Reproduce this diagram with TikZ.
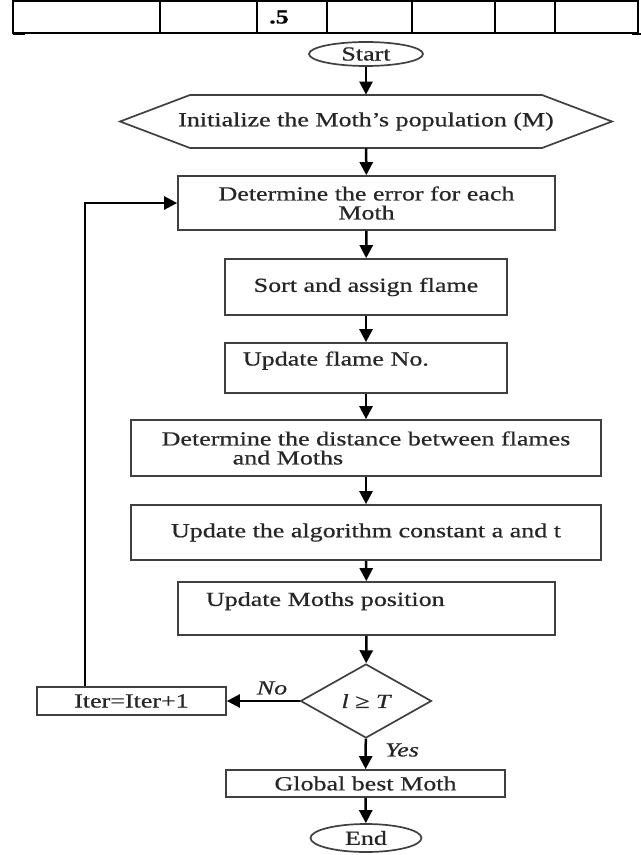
\documentclass[tikz,border=0pt]{standalone}
\usepackage{fontspec}
\setmainfont{Liberation Serif}[FakeStretch=1.3,FakeBold=0.6]
\usetikzlibrary{shapes.geometric,arrows.meta}

\begin{document}
\begin{tikzpicture}[x=0.5pt,y=-0.5pt,
		caixa/.style={draw=black!75, line width=0.85pt, inner sep=0pt, text=black!85},
		seta/.style={-{Triangle[length=6.5pt,width=6.5pt]}, line width=1.25pt},
		txt/.style={inner sep=0pt, text=black!85},
		font=\fontsize{10}{9.5}\selectfont]
	\useasboundingbox (0,0) rectangle (641,855);
	
	% Tabela
	\draw[line width=0.75pt] (13,1) rectangle (638,33);
	\foreach \x in {160,257,327,412,495,555}
		\draw[line width=0.75pt] (\x,1) -- (\x,33);
	\draw[line width=1pt] (13,34.5) -- (25,34.5);						% borda inferior
	\draw[line width=1pt] (632,34.5) -- (641,34.5);
	\node[txt, text=black, font=\fontsize{10}{12}\selectfont\bfseries] (cel) at (279,17) {.5};
	
	% Blocos
	\node[caixa, ellipse, minimum width=57pt, minimum height=12pt] (start) at (366,54) {Start};
	\node[txt, minimum height=26.5pt] (init) at (366,121.5) {Initialize the Moth’s population (M)};
	\draw[caixa] ([shift={(-176,-26.5)}]init.center) -- ([shift={(176,-26.5)}]init.center)
		-- ([shift={(246,0)}]init.center) -- ([shift={(176,26.5)}]init.center)
		-- ([shift={(-176,26.5)}]init.center) -- ([shift={(-246,0)}]init.center) -- cycle;	% hexagono
	\node[caixa, minimum width=188.5pt, minimum height=27pt, align=center] (err) at (366.5,203) {Determine the error for each\\Moth};
	\node[caixa, minimum width=141pt, minimum height=28pt] (sort) at (366,287) {Sort and assign flame};
	\node[caixa, minimum width=141pt, minimum height=25pt, text width=123pt, align=left] (upd) at (366,368) {Update flame No.\\\mbox{}};
	\node[caixa, minimum width=235pt, minimum height=28pt, align=left] (dist) at (366,448) {Determine the distance between flames\\\hspace*{35.5pt}and Moths};
	\node[caixa, minimum width=235pt, minimum height=27.5pt] (algo) at (366,532.5) {Update the algorithm constant a and t};
	\node[caixa, minimum width=188.5pt, minimum height=26.5pt, text width=160.5pt, align=left] (pos) at (366.5,608.5) {Update Moths position\\\mbox{}};
	\node[caixa, diamond, aspect=1.77, minimum width=65.5pt, minimum height=37pt] (dec) at (366,701) {\itshape l ≥ T};
	\node[caixa, minimum width=94.5pt, minimum height=14pt] (iter) at (131.5,701) {Iter=Iter+1};
	\node[caixa, minimum width=139.5pt, minimum height=13.5pt] (best) at (365.5,783.5) {Global best Moth};
	\node[caixa, ellipse, minimum width=55.5pt, minimum height=14pt] (stop) at (366,838) {End};
	
	% Rotulos
	\node[txt, font=\fontsize{10}{12}\selectfont\itshape] (no) at (272,688) {No};
	\node[txt, font=\fontsize{10}{12}\selectfont\itshape] (yes) at (402,750) {Yes};
	
	% Setas
	\draw[seta] (start) -- (init);
	\draw[seta] (init) -- (err);
	\draw[seta] (err) -- (sort);
	\draw[seta] (sort) -- (upd);
	\draw[seta] (upd) -- (dist);
	\draw[seta] (dist) -- (algo);
	\draw[seta] (algo) -- (pos);
	\draw[seta] (pos) -- (dec);
	\draw[seta] (dec) -- (best);
	\draw[seta] (best) -- (stop);
	\draw[seta] (dec) -- (iter);
	\coordinate (volta) at (85,203);
	\draw[seta] (iter.north -| volta) -- (volta) -- (err.west);			% retorno
\end{tikzpicture}
\end{document}
